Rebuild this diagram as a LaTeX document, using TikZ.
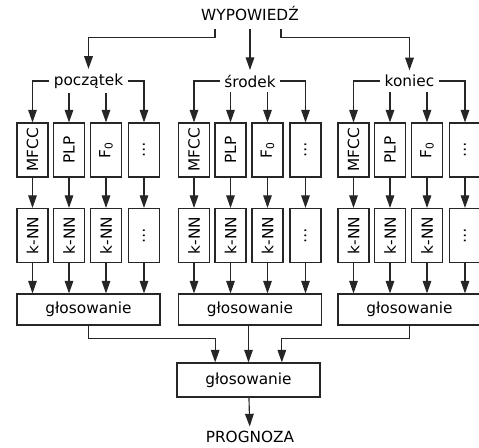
\documentclass[tikz,border=0pt]{standalone}
\usepackage{fontspec}
\setmainfont{DejaVu Sans}
\usetikzlibrary{arrows.meta,positioning,calc}

\begin{document}
\begin{tikzpicture}[
  x=0.75pt, y=-0.75pt,
  font=\fontsize{11.5}{13}\selectfont, >={Triangle[length=9.5pt,width=6.5pt]},
  ln/.style={draw=black!85,line width=0.85pt},
  feat/.style={ln,fill=white,minimum width=23.25pt,minimum height=40.5pt,inner sep=0pt},
  vote/.style={ln,fill=white,minimum width=107.25pt,minimum height=23.25pt,inner sep=0pt}
]
\useasboundingbox (0,0) rectangle (479,448);
\clip (0,0) rectangle (479,448);
\node (wyp) at (250,14) {WYPOWIEDŹ};
\foreach \k/\gx/\lab in {a/88.5/początek, b/250/środek, c/409.5/koniec}{
  \node (\k) at (\gx,81) {\lab};
  \node[vote] (g\k) at (\gx,309.5) {głosowanie};
  \foreach \i/\dx/\t/\m in {1/-56/MFCC/k-NN, 2/-19.5/PLP/k-NN, 3/17.5/F\textsubscript{0}/k-NN, 4/55.5/\dots/\dots}{
    \node[feat] (f\k\i) at (\gx+\dx,150) {\rotatebox{90}{\t}};
    \node[feat] (n\k\i) at (\gx+\dx,235.5) {\rotatebox{90}{\m}};
    \draw[ln,->] (f\k\i) -- (n\k\i);
    \draw[ln,->] (n\k\i) -- (n\k\i |- g\k.north);
  }
  \draw[ln,->] (\k.west) -| (f\k1.north);
  \draw[ln,->] (\k.east) -| (f\k4.north);
  \draw[ln,->] (f\k2 |- \k.south) -- (f\k2.north);
  \draw[ln,->] (f\k3 |- \k.south) -- (f\k3.north);
}
% zbiorcze glosowanie
\node[vote,minimum height=25.5pt] (fin) at (248.5,380) {głosowanie};
\node (prog) at (250,437) {PROGNOZA};
\draw[ln,->] ($(wyp.south)+(-35,3)$) -- ++(0,9) -| (a.north);
\draw[ln,->] ($(wyp.south -| b.north)+(0,3)$) -- (b.north);
\draw[ln,->] ($(wyp.south)+(31,3)$) -- ++(0,9) -| (c.north);
\draw[ln,->] (ga.south) -- ++(0,13) -| ([xshift=-25pt]fin.north);
\draw[ln,->] (gb.south -| fin.north) -- (fin.north);
\draw[ln,->] (gc.south) -- ++(0,13) -| ([xshift=25pt]fin.north);
\draw[ln,->] (fin) -- (prog);
\end{tikzpicture}
\end{document}
